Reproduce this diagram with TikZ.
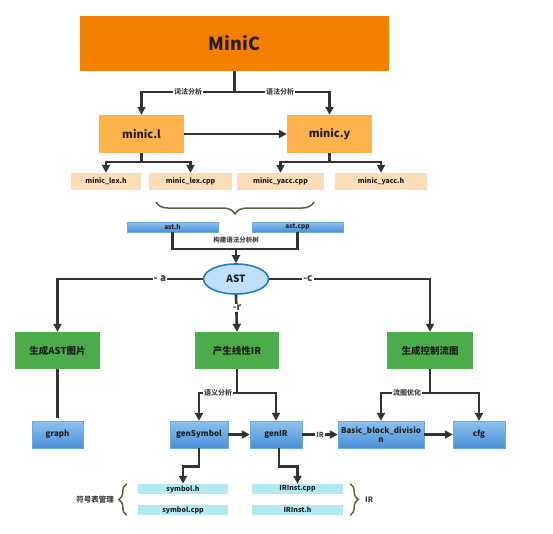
\documentclass[tikz,border=0pt]{standalone}
\usepackage{fontspec}
\setmainfont{Noto Sans CJK SC}
\usepackage{tikz}
\usetikzlibrary{arrows.meta, positioning, shapes, decorations.pathreplacing}
\definecolor{miniorange}{HTML}{F57F00}
\definecolor{srcorange}{HTML}{FDB24B}
\definecolor{genpeach}{HTML}{FDDDB8}
\definecolor{boxblueA}{HTML}{8DC2EF}
\definecolor{boxblueB}{HTML}{4C8FD7}
\definecolor{boxblueC}{HTML}{6FA8E0}
\definecolor{passgreen}{HTML}{4CAC4C}
\definecolor{filecyan}{HTML}{B3EAF1}
\definecolor{astfill}{HTML}{BFE0F8}
\definecolor{astborder}{HTML}{1F7DD3}
\definecolor{flowgray}{HTML}{333333}
\definecolor{braceolive}{HTML}{58613F}

\begin{document}
\begin{tikzpicture}[x=1pt, y=-1pt,
    every node/.style={inner sep=0pt, text=black!88, font=\bfseries},
    topbox/.style={fill=miniorange, minimum width=309pt, minimum height=55pt,
                   font=\fontsize{18}{20}\selectfont\bfseries},
    srcbox/.style={fill=srcorange, minimum width=85pt, minimum height=38pt,
                   font=\fontsize{11}{13}\selectfont\bfseries},
    genbox/.style={fill=genpeach, minimum height=17pt,
                   font=\fontsize{7}{8}\selectfont\bfseries},
    bluebox/.style={top color=boxblueA, bottom color=boxblueB, draw=boxblueC,
                    line width=0.4pt, minimum height=27pt, align=center,
                    font=\fontsize{8}{9}\selectfont\bfseries},
    thinblue/.style={bluebox, minimum height=10pt, minimum width=91pt,
                     font=\fontsize{6.5}{7}\selectfont\bfseries},
    passbox/.style={fill=passgreen, minimum height=37pt,
                    font=\fontsize{9.5}{10}\selectfont\bfseries},
    filebox/.style={fill=filecyan, minimum height=10pt,
                    font=\fontsize{7}{8}\selectfont\bfseries},
    treenode/.style={ellipse, fill=astfill, draw=astborder, line width=1.6pt,
                     minimum width=65pt, minimum height=30pt,
                     font=\fontsize{10}{11}\selectfont\bfseries},
    flow/.style={draw=flowgray, line width=2.6pt},
    arr/.style={flow, -{Triangle[length=8pt,width=8pt]}},
    lab/.style={fill=white, inner sep=1pt, text=black!75,
                font=\fontsize{7}{8}\selectfont\bfseries},
    optlab/.style={lab, font=\fontsize{10}{11}\selectfont\bfseries},
    brc/.style={draw=braceolive, line width=1.5pt, decorate}]
        \useasboundingbox (0,0) rectangle (553,533);

        % ---- front end ----
        \node[topbox] (minic) at (234.5, 43.5) {MiniC};
        \node[srcbox] (lexl) at (141.5, 134) {minic.l};
        \node[srcbox] (yacc) at (329.5, 134) {minic.y};
        \node[genbox, minimum width=70pt] (lexh)    at (106, 181.5) {minic\_lex.h};
        \node[genbox, minimum width=83pt] (lexcpp)  at (190.5, 181.5) {minic\_lex.cpp};
        \node[genbox, minimum width=87pt] (yacccpp) at (280.5, 181.5) {minic\_yacc.cpp};
        \node[genbox, minimum width=92pt] (yacch)   at (381, 181.5) {minic\_yacc.h};
        % MiniC split
        \coordinate (split1) at (234.5, 92);
        \draw[arr] (minic.south) -- (split1) -| (lexl.north);
        \draw[arr] (split1) -| (yacc.north);
        \node[lab] (lexlab) at (188, 92) {词法分析};
        \node[lab] (yacclab) at (280, 92) {语法分析};
        \draw[arr] (lexl.east) -- (yacc.west);
        % generated sources
        \coordinate (split2) at (141.5, 162);
        \draw[arr] (lexl.south) -- (split2) -| (lexh.north);
        \draw[arr] (split2) -| (lexcpp.north);
        \coordinate (split3) at (329.5, 162);
        \draw[arr] (yacc.south) -- (split3) -| (yacccpp.north);
        \draw[arr] (split3) -| (yacch.north);
        \draw[brc, decoration={brace, mirror, amplitude=12pt}]
              (156, 202) -- (314, 202);

        % ---- syntax tree ----
        \node[thinblue] (asth)   at (172.5, 227) {ast.h};
        \node[thinblue] (astcpp) at (297.5, 227) {ast.cpp};
        \node[treenode] (ast) at (236, 279) {AST};
        \coordinate (join1) at (236, 249);
        \draw[flow] (asth.south) |- (join1) -| (astcpp.south);
        \draw[arr] (join1) -- (ast.north);
        \node[font=\fontsize{6.5}{7}\selectfont\bfseries, text=black!75]
              (treelab) at (236, 240) {构建语法分析树};

        % ---- passes ----
        \node[passbox, minimum width=85pt] (astpic) at (57.5, 350.5) {生成AST图片};
        \node[passbox, minimum width=84pt] (linir)  at (237, 350.5) {产生线性IR};
        \node[passbox, minimum width=86pt] (cfgen)  at (430, 350.5) {生成控制流图};
        \draw[arr] (ast.west) -| (astpic.north);
        \draw[arr] (ast.east) -| (cfgen.north);
        \draw[arr] (ast.south) -- (linir.north);
        \node[optlab] (optA) at (160, 279) {- a};
        \node[optlab] (optC) at (308, 279) {-c};
        \node[optlab] (optR) at (237, 308) {-r};

        % ---- back end ----
        \node[bluebox, minimum width=51pt] (graph)  at (57.5, 434.5) {graph};
        \node[bluebox, minimum width=58pt] (gensym) at (199, 434.5) {genSymbol};
        \node[bluebox, minimum width=52pt] (genir)  at (276, 434.5) {genIR};
        \node[bluebox, minimum width=86pt] (bbd)    at (381, 434.5) {Basic\_block\_divisio\\n};
        \node[bluebox, minimum width=52pt] (cfg)    at (479, 434.5) {cfg};
        \draw[flow] (astpic.south) -- ([yshift=3pt]graph.north);
        \coordinate (split4) at (237, 393);
        \draw[arr] (linir.south) -- (split4) -| (gensym.north);
        \draw[arr] (split4) -| (genir.north);
        \node[lab] (semlab) at (218, 393) {语义分析};
        \coordinate (split5) at (430, 393);
        \draw[arr] (cfgen.south) -- (split5) -| (bbd.north);
        \draw[arr] (split5) -| (cfg.north);
        \node[lab] (optlab) at (407, 393) {流图优化};
        \draw[arr] (gensym.east) -- (genir.west);
        \draw[arr] (genir.east) -- node[lab] (irlab) {IR} (bbd.west);
        \draw[arr] (bbd.east) -- (cfg.west);

        % ---- symbol table and IR files ----
        \node[filebox, minimum width=90pt] (symh)   at (183, 489) {symbol.h};
        \node[filebox, minimum width=90pt] (symcpp) at (183, 510) {symbol.cpp};
        \node[filebox, minimum width=91pt] (ircpp)  at (297.5, 489) {IRInst.cpp};
        \node[filebox, minimum width=91pt] (irh)    at (297.5, 510) {IRInst.h};
        \draw[arr] (gensym.south) -- ++(0, 18) -| (symh.north);
        \draw[arr] ([xshift=3pt]genir.south) -- ++(0, 18) -| (ircpp.north);
        \draw[brc, decoration={brace, amplitude=8pt}]
              ([xshift=-11pt]symcpp.south west) -- ([xshift=-11pt]symh.north west);
        \node[text=black!75, font=\fontsize{7.5}{8}\selectfont\bfseries, anchor=east]
              (symlab) at (114, 499.5) {符号表管理};
        \draw[brc, decoration={brace, amplitude=8pt}]
              ([xshift=7pt]ircpp.north east) -- ([xshift=7pt]irh.south east);
        \node[text=black!75, font=\fontsize{7.5}{8}\selectfont\bfseries, anchor=west]
              (irfiles) at (365, 499.5) {IR};
      \end{tikzpicture}
\end{document}
